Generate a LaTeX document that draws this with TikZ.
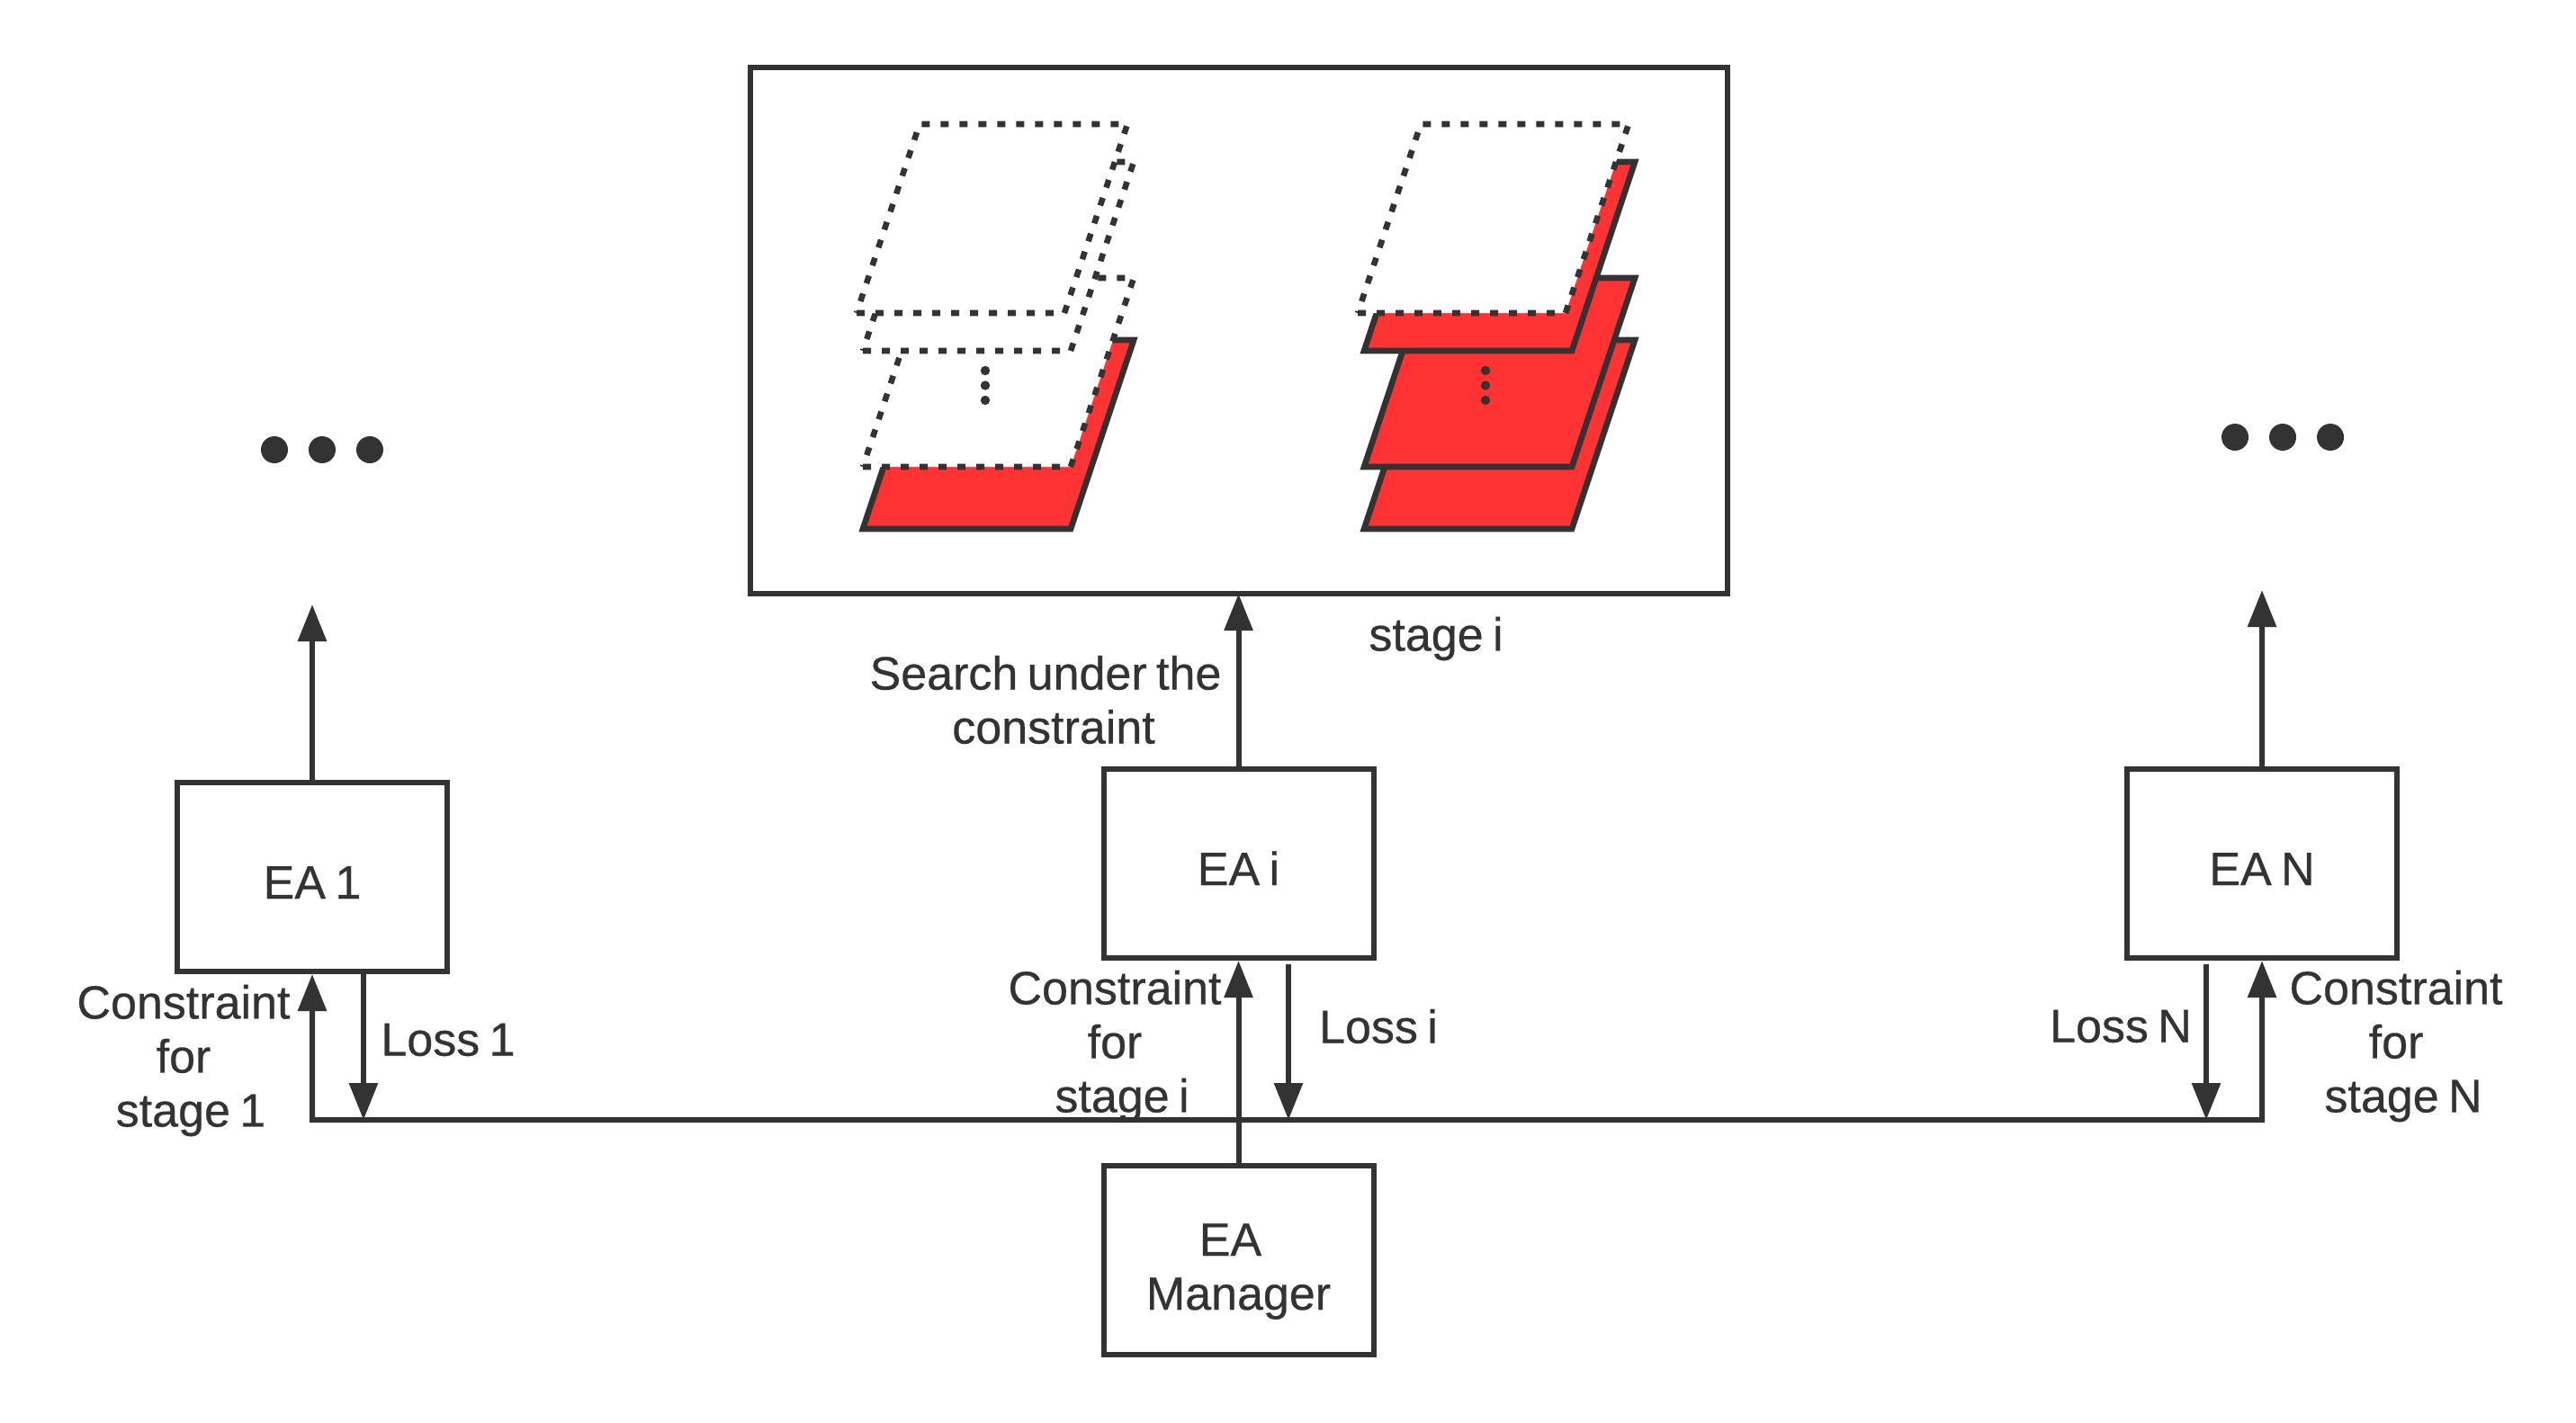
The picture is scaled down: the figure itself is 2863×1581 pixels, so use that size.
\documentclass[tikz,border=0pt]{standalone}
\usepackage{fontspec}
\setmainfont[WordSpace=0.72,BoldFont={Liberation Sans},BoldFeatures={FakeBold=0.5}]{Liberation Sans}
\usetikzlibrary{arrows.meta}
\definecolor{ink}{HTML}{333333}
\definecolor{sheetred}{HTML}{FF3333}
\newcommand{\sheet}[3]{\draw[#1] (#2,#3) -- ++(231,0) -- ++(70,-210) -- ++(-231,0) -- cycle;}
\tikzset{
  txt/.style={font=\fontsize{26}{30}\selectfont\bfseries,text=ink,align=center,inner sep=0pt},
  eabox/.style={draw=ink,line width=3pt,minimum width=150pt,minimum height=105pt,inner sep=0pt,txt,text height=24pt,text depth=0pt},
  conn/.style={draw=ink,line width=3pt,-{Triangle[length=20.5pt,width=15.5pt]}},
  redsheet/.style={draw=ink,line width=3.3pt,fill=sheetred},
  dotsheet/.style={draw=ink,line width=3.3pt,fill=white,dash pattern=on 4.5pt off 6pt}
}
\begin{document}
\begin{tikzpicture}[x=0.5pt,y=-0.5pt]
  \useasboundingbox (0,0) rectangle (2863,1581);

  \node[draw=ink,line width=3pt,minimum width=543pt,minimum height=292.5pt] (main) at (1377,367.5) {};

  % left stack
  \sheet{redsheet}{959}{588}
  \sheet{dotsheet}{959}{519}
  \sheet{dotsheet}{959}{390}
  \sheet{dotsheet}{952}{348}
  % right stack
  \sheet{redsheet}{1516}{588}
  \sheet{redsheet}{1516}{519}
  \sheet{redsheet}{1516}{390}
  \sheet{dotsheet}{1509}{348}

  \foreach \y in {412,428.5,445} {
    \fill[ink] (1095,\y) circle (2.6pt);
    \fill[ink] (1651,\y) circle (2.6pt);
  }
  \foreach \x in {305,358,411} \fill[ink] (\x,500) circle (7.5pt);
  \foreach \x in {2484,2537,2590} \fill[ink] (\x,486) circle (7.5pt);

  \node[eabox] (ea1) at (347,975) {EA 1};
  \node[eabox,right of=ea1,xshift=486.3pt,yshift=7.5pt] (eai) {EA i};
  \node[eabox,right of=eai,xshift=540.3pt] (eaN) {EA N};
  \node[eabox,below of=eai,yshift=-192.05pt,text height=57.5pt,text depth=2.5pt] (mgr) {EA\hspace*{9pt}\\Manager};

  \coordinate (top1) at (347,672);
  \coordinate (topN) at (2514,656);
  \coordinate (bus1) at (347,1245);
  \coordinate (busN) at (2514,1245);
  \coordinate (loss1) at (404,1245);
  \coordinate (lossi) at (1432,1245);
  \coordinate (lossN) at (2452,1245);

  \draw[conn] (ea1.north) -- (top1);
  \draw[conn] (eai.north) -- ([yshift=1.5pt]main.south -| eai.north);
  \draw[conn] (eaN.north) -- (topN);

  \draw[conn,{Triangle[length=20.5pt,width=15.5pt]}-{Triangle[length=20.5pt,width=15.5pt]}] (ea1.south) -- (bus1) -- (busN) -- (eaN.south);
  \draw[conn] (mgr.north) -- (eai.south);
  \draw[conn] (ea1.south -| loss1) -- (loss1);
  \draw[conn] ([yshift=-2pt]eai.south -| lossi) -- (lossi);
  \draw[conn] ([yshift=-2pt]eaN.south -| lossN) -- (lossN);

  \node[txt] (stagei) at (1596,710) {stage i};
  \node[txt] (search) at (1162,778) {Search under the\\\hspace*{9pt}constraint};
  \node[txt] (con1) at (204,1179) {Constraint\\for\\\hspace*{8pt}stage 1};
  \node[txt] (coni) at (1239,1163) {Constraint\\for\\\hspace*{8pt}stage i};
  \node[txt] (conN) at (2663,1163) {Constraint\\for\\\hspace*{8pt}stage N};
  \node[txt] (los1) at (498,1156) {Loss 1};
  \node[txt] (losi) at (1532,1141) {Loss i};
  \node[txt] (losN) at (2357,1141) {Loss N};
\end{tikzpicture}
\end{document}
